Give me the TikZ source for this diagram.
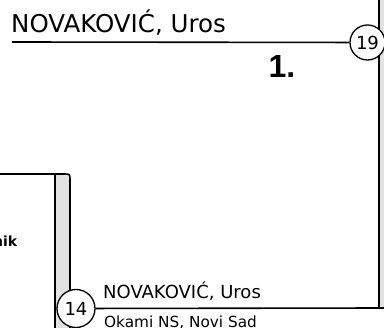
\documentclass[tikz,border=0pt]{standalone}
\usepackage{fontspec}
\setmainfont{DejaVu Sans}
\newfontfamily\roundfont{Liberation Sans}
\usepackage{tikz}
\definecolor{stripgray}{HTML}{E2E2E2}
\tikzset{line/.style={line width=1.6pt}}
\tikzset{seed/.style={circle,draw,line width=1.3pt,fill=white,inner sep=0pt,font=\fontsize{18}{18}\selectfont}}
\tikzset{player/.style={anchor=base west,inner sep=0pt}}

\begin{document}
\begin{tikzpicture}[x=1pt,y=-1pt]
    \useasboundingbox (0,0) rectangle (384,328);
    \clip (0,0) rectangle (384,328);
    % boxes
    \filldraw[line,fill=stripgray] (55,340) -- (55,174) -- (64,174) .. controls (70,174) .. (70,180) -- (70,340);
    \draw[line] (-10,174) -- (55,174);
    \coordinate (rt) at (379,-10);
    \coordinate (rb) at (379,308);
    \fill[stripgray] (379.8,-10) rectangle (390,307);
    \draw[line] (rt) -- (rb);
    \node[seed,minimum size=35pt] (s19) at (367.5,42.5) {19};
    \node[seed,minimum size=38pt] (s14) at (76,308.5) {14};
    \coordinate (w19) at (12,42);
    \coordinate (e14) at (390,308);
    \draw[line] (w19) -- (s19);
    \draw[line] (s14) -- (e14);
    \node[player,font=\fontsize{24.5}{24.5}\selectfont] (name19) at (11,33) {NOVAKOVIĆ, Uros};
    \node[player,font=\roundfont\bfseries\fontsize{32}{32}\selectfont] (round) at (268.5,77.5) {1.};
    \node[anchor=base east,inner sep=0pt,font=\bfseries\fontsize{14}{14}\selectfont] (cat) at (17.5,246.5) {nik};
    \node[player,font=\fontsize{18}{18}\selectfont] (name14) at (103,299) {NOVAKOVIĆ, Uros};
    \node[player,font=\fontsize{15.3}{15.3}\selectfont] (club14) at (104,327.5) {Okami NS, Novi Sad};
  \end{tikzpicture}
\end{document}
